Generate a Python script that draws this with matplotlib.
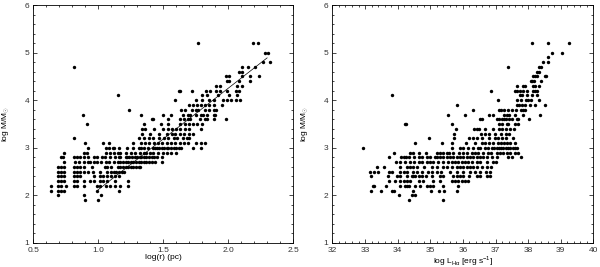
import matplotlib
matplotlib.use('Agg')
import matplotlib.pyplot as plt
from matplotlib.ticker import MultipleLocator

plt.rcParams['font.family'] = ['Liberation Sans', 'DejaVu Sans']
plt.rcParams['mathtext.fontset'] = 'custom'
plt.rcParams['mathtext.rm'] = 'Liberation Sans'

# left panel: log M rows and log(r) of the points in each row
mass_levels_r = [5.2, 5.0, 4.8, 4.7, 4.6, 4.5, 4.4, 4.3, 4.2, 4.1, 4.0, 3.9, 3.8,
                 3.7, 3.6, 3.5, 3.4, 3.3, 3.2, 3.1, 3.0, 2.9, 2.8, 2.7, 2.6, 2.5,
                 2.4, 2.3, 2.2, 2.1, 2.0, 1.9]
logr = [
    [1.77, 2.19, 2.23],
    [2.28, 2.31],
    [2.27, 2.32],
    [0.81, 2.11, 2.15, 2.21],
    [2.08, 2.11],
    [1.98, 2.01, 2.11, 2.17, 2.24],
    [1.99, 2.01, 2.08, 2.17],
    [1.91, 1.94, 2.07, 2.11],
    [1.62, 1.63, 1.72, 1.83, 1.86, 1.91, 1.94, 1.99, 2.06, 2.08],
    [1.15, 1.80, 1.84, 1.92, 2.01, 2.07],
    [1.59, 1.75, 1.80, 1.85, 1.89, 1.96, 1.99, 2.02, 2.06, 2.09],
    [1.70, 1.73, 1.76, 1.79, 1.82, 1.85, 1.89, 1.95],
    [1.24, 1.64, 1.67, 1.72, 1.75, 1.77, 1.82, 1.85, 1.89, 1.91],
    [0.88, 1.33, 1.50, 1.56, 1.65, 1.69, 1.71, 1.75, 1.79, 1.81, 1.84, 1.89, 1.90],
    [1.41, 1.42, 1.54, 1.63, 1.66, 1.69, 1.71, 1.78, 1.82, 1.84, 1.89, 1.98],
    [0.91, 1.35, 1.48, 1.54, 1.63, 1.67, 1.70, 1.73, 1.76, 1.80],
    [1.34, 1.36, 1.43, 1.50, 1.54, 1.57, 1.60, 1.63, 1.67, 1.70, 1.79],
    [1.34, 1.40, 1.47, 1.53, 1.57, 1.59, 1.63, 1.66, 1.70, 1.73],
    [0.81, 1.31, 1.35, 1.39, 1.42, 1.47, 1.51, 1.54, 1.58, 1.61, 1.65, 1.68, 1.70],
    [0.90, 1.04, 1.08, 1.27, 1.33, 1.36, 1.39, 1.43, 1.46, 1.49, 1.53, 1.56,
     1.59, 1.63, 1.66, 1.69, 1.75, 1.79, 1.82],
    [0.92, 1.06, 1.08, 1.11, 1.12, 1.16, 1.22, 1.27, 1.31, 1.33, 1.35, 1.38,
     1.42, 1.44, 1.45, 1.47, 1.49, 1.51, 1.53, 1.54, 1.56, 1.58, 1.60, 1.62,
     1.64, 1.73, 1.79],
    [0.74, 0.89, 0.91, 1.06, 1.09, 1.12, 1.15, 1.17, 1.21, 1.25, 1.28, 1.32,
     1.35, 1.37, 1.40, 1.42, 1.46, 1.50, 1.53, 1.56, 1.60],
    [0.71, 0.73, 0.81, 0.84, 0.86, 0.89, 0.92, 0.97, 0.99, 1.03, 1.05, 1.09,
     1.13, 1.16, 1.17, 1.21, 1.22, 1.24, 1.26, 1.28, 1.30, 1.32, 1.33, 1.35,
     1.37, 1.39, 1.41, 1.43, 1.45, 1.49],
    [0.74, 0.82, 0.85, 0.89, 0.92, 0.94, 0.97, 0.99, 1.02, 1.06, 1.08, 1.12,
     1.15, 1.17, 1.19, 1.21, 1.23, 1.25, 1.27, 1.29, 1.31, 1.33, 1.35, 1.37,
     1.39, 1.41, 1.44, 1.49],
    [0.69, 0.71, 0.74, 0.81, 0.84, 0.86, 0.89, 0.95, 1.05, 1.07, 1.10, 1.15,
     1.17, 1.19, 1.21, 1.23, 1.25, 1.27, 1.29, 1.31, 1.32],
    [0.69, 0.71, 0.74, 0.81, 0.84, 0.86, 0.89, 0.92, 0.96, 1.01, 1.07, 1.10,
     1.12, 1.14, 1.16, 1.18, 1.20],
    [0.69, 0.71, 0.74, 0.81, 0.84, 0.86, 0.97, 1.01, 1.04, 1.07, 1.10, 1.13, 1.16],
    [0.69, 0.71, 0.74, 0.81, 0.84, 0.89, 0.94, 0.97, 1.01, 1.04, 1.07, 1.13, 1.23],
    [0.64, 0.69, 0.71, 0.75, 0.81, 0.84, 0.89, 0.99, 1.01, 1.06, 1.09, 1.13, 1.17, 1.23],
    [0.64, 0.69, 0.71, 0.74, 0.99, 1.16],
    [0.69, 0.89, 1.02],
    [0.90, 1.00],
]
fit_r = [1.0, 2.30]
fit_m = [2.12, 4.89]

# right panel: log M rows and log L(Halpha) of the points in each row
mass_levels_l = [5.2, 5.0, 4.9, 4.8, 4.7, 4.6, 4.5, 4.4, 4.3, 4.2, 4.1, 4.0, 3.9,
                 3.8, 3.7, 3.6, 3.5, 3.4, 3.3, 3.2, 3.1, 3.0, 2.9, 2.8, 2.7, 2.6,
                 2.5, 2.4, 2.3, 2.2, 2.1, 2.0, 1.9]
log_lha = [
    [38.12, 38.61, 39.26],
    [38.72, 39.04],
    [38.61],
    [38.45, 38.61],
    [37.37, 38.33, 38.38],
    [38.28, 38.33],
    [38.16, 38.22, 38.28, 38.52, 38.55],
    [38.08, 38.13, 38.19, 38.38],
    [37.65, 37.83, 37.89, 38.16, 38.22, 38.33],
    [36.85, 37.60, 37.65, 37.75, 37.83, 37.96, 38.16, 38.22, 38.26],
    [33.83, 37.75, 37.81, 37.96, 38.11, 38.28],
    [37.07, 37.65, 37.77, 37.93, 37.99, 38.09, 38.33],
    [35.81, 37.65, 37.72, 37.82, 37.90, 38.06, 38.21, 38.52],
    [36.30, 37.11, 37.17, 37.25, 37.38, 37.51, 37.62, 37.78, 37.85, 37.91],
    [35.53, 36.06, 36.81, 36.91, 37.26, 37.34, 37.42, 37.60, 37.85, 38.36],
    [36.53, 36.59, 37.04, 37.11, 37.19, 37.25, 37.32, 37.41, 37.51, 37.65,
     37.70, 38.02],
    [34.21, 34.26, 35.66, 37.11, 37.19, 37.34, 37.39, 37.61, 37.70],
    [35.80, 36.33, 36.42, 36.48, 36.68, 36.93, 37.12, 37.19, 37.32, 37.44, 37.56],
    [35.73, 36.54, 36.69, 36.80, 36.98, 37.18, 37.32, 37.42],
    [34.96, 35.72, 36.20, 36.32, 36.43, 36.59, 36.80, 36.98, 37.09, 37.19,
     37.32, 37.55],
    [34.53, 35.36, 35.67, 36.10, 36.37, 36.60, 36.69, 36.79, 36.91, 37.09,
     37.17, 37.26, 37.36, 37.45, 37.60],
    [32.93, 35.66, 35.91, 36.01, 36.17, 36.32, 36.45, 36.53, 36.68, 36.78,
     36.88, 36.95, 37.03, 37.10, 37.17, 37.24, 37.31, 37.38, 37.45, 37.53,
     37.60, 37.65],
    [33.89, 34.38, 34.46, 34.64, 34.87, 35.20, 35.30, 35.40, 35.50, 35.58,
     35.71, 35.88, 36.01, 36.12, 36.27, 36.37, 36.47, 36.63, 36.77, 36.85,
     37.05, 37.14, 37.24, 37.34, 37.44, 37.61, 37.68],
    [33.75, 34.10, 34.18, 34.26, 34.36, 34.50, 34.64, 34.74, 34.89, 34.99,
     35.13, 35.22, 35.30, 35.40, 35.50, 35.61, 35.71, 35.81, 35.91, 36.01,
     36.12, 36.22, 36.32, 36.42, 36.53, 36.63, 36.73, 36.88, 37.04, 37.39,
     37.50, 37.78],
    [33.96, 34.07, 34.24, 34.38, 34.51, 34.66, 34.76, 34.89, 34.99, 35.09,
     35.24, 35.38, 35.55, 35.66, 35.76, 35.86, 35.96, 36.07, 36.17, 36.27,
     36.42, 36.53, 36.73, 36.93, 37.02],
    [33.36, 33.59, 34.07, 34.28, 34.38, 34.48, 34.58, 34.81, 35.06, 35.20,
     35.40, 35.51, 35.67, 35.81, 35.91, 36.01, 36.12, 36.22, 36.32, 36.42,
     36.58, 36.73, 36.85],
    [33.15, 33.28, 33.39, 33.75, 33.84, 34.07, 34.18, 34.28, 34.48, 34.58,
     34.74, 34.94, 35.04, 35.20, 35.32, 35.61, 35.81, 36.01, 36.22, 36.37,
     36.53, 36.70, 36.83],
    [33.17, 33.69, 33.97, 34.07, 34.28, 34.43, 34.48, 34.53, 34.64, 34.75,
     34.87, 35.04, 35.30, 35.40, 35.71, 35.81, 35.91, 36.01, 36.20, 36.42,
     36.53, 36.75, 36.83],
    [33.72, 33.92, 34.07, 34.20, 34.28, 34.38, 34.64, 34.77, 35.09, 35.30,
     35.66, 35.76, 35.86, 35.96, 36.07, 36.17],
    [33.23, 33.28, 33.64, 34.07, 34.23, 34.28, 34.34, 34.53, 34.69, 34.89,
     34.99, 35.09, 35.38, 35.86],
    [33.18, 33.48, 33.82, 33.89, 34.48, 35.01, 35.28, 35.43, 35.81],
    [34.05, 34.44, 34.53],
    [34.35, 35.40],
]


def flatten(levels, rows):
    xs, ys = [], []
    for m, row in zip(levels, rows):
        xs.extend(row)
        ys.extend([m] * len(row))
    return xs, ys


def style_axes(ax):
    ax.set_ylim(1, 6)
    ax.yaxis.set_major_locator(MultipleLocator(1))
    ax.yaxis.set_minor_locator(MultipleLocator(0.2))
    ax.tick_params(which='both', direction='in', top=True, right=True,
                   labelsize=6, labelcolor='#333333', width=0.5, pad=3)
    ax.tick_params(which='major', length=3)
    ax.tick_params(which='minor', length=1.5)
    for s in ax.spines.values():
        s.set_linewidth(0.6)
    ax.set_ylabel(r'log M/M$_{\odot}$', fontsize=6)
    ax.yaxis.set_label_coords(-0.085, 0.5)
    ax.xaxis.set_label_coords(0.5, -0.045)


fig = plt.figure(figsize=(6, 2.67), dpi=100)
ax1 = fig.add_axes([0.0555, 0.09, 0.433, 0.891])
ax2 = fig.add_axes([0.554, 0.09, 0.435, 0.891])

x, y = flatten(mass_levels_r, logr)
ax1.scatter(x, y, s=6, c='black', marker='o', linewidths=0)
ax1.plot(fit_r, fit_m, color='black', lw=0.5)
ax1.set_xlim(0.5, 2.5)
ax1.set_xticks([0.5, 1.0, 1.5, 2.0, 2.5])
ax1.set_xticklabels(['0.5', '1.0', '1.5', '2.0', '2.5'])
ax1.xaxis.set_minor_locator(MultipleLocator(0.1))
ax1.set_xlabel('log(r) (pc)', fontsize=6)
style_axes(ax1)

x, y = flatten(mass_levels_l, log_lha)
ax2.scatter(x, y, s=6, c='black', marker='o', linewidths=0)
ax2.set_xlim(32, 40)
ax2.xaxis.set_major_locator(MultipleLocator(1))
ax2.xaxis.set_minor_locator(MultipleLocator(0.2))
ax2.set_xlabel(r'log L$_{\mathrm{H\alpha}}$ [erg s$^{-1}$]', fontsize=6)
style_axes(ax2)

fig.savefig('out.png', dpi=100)
